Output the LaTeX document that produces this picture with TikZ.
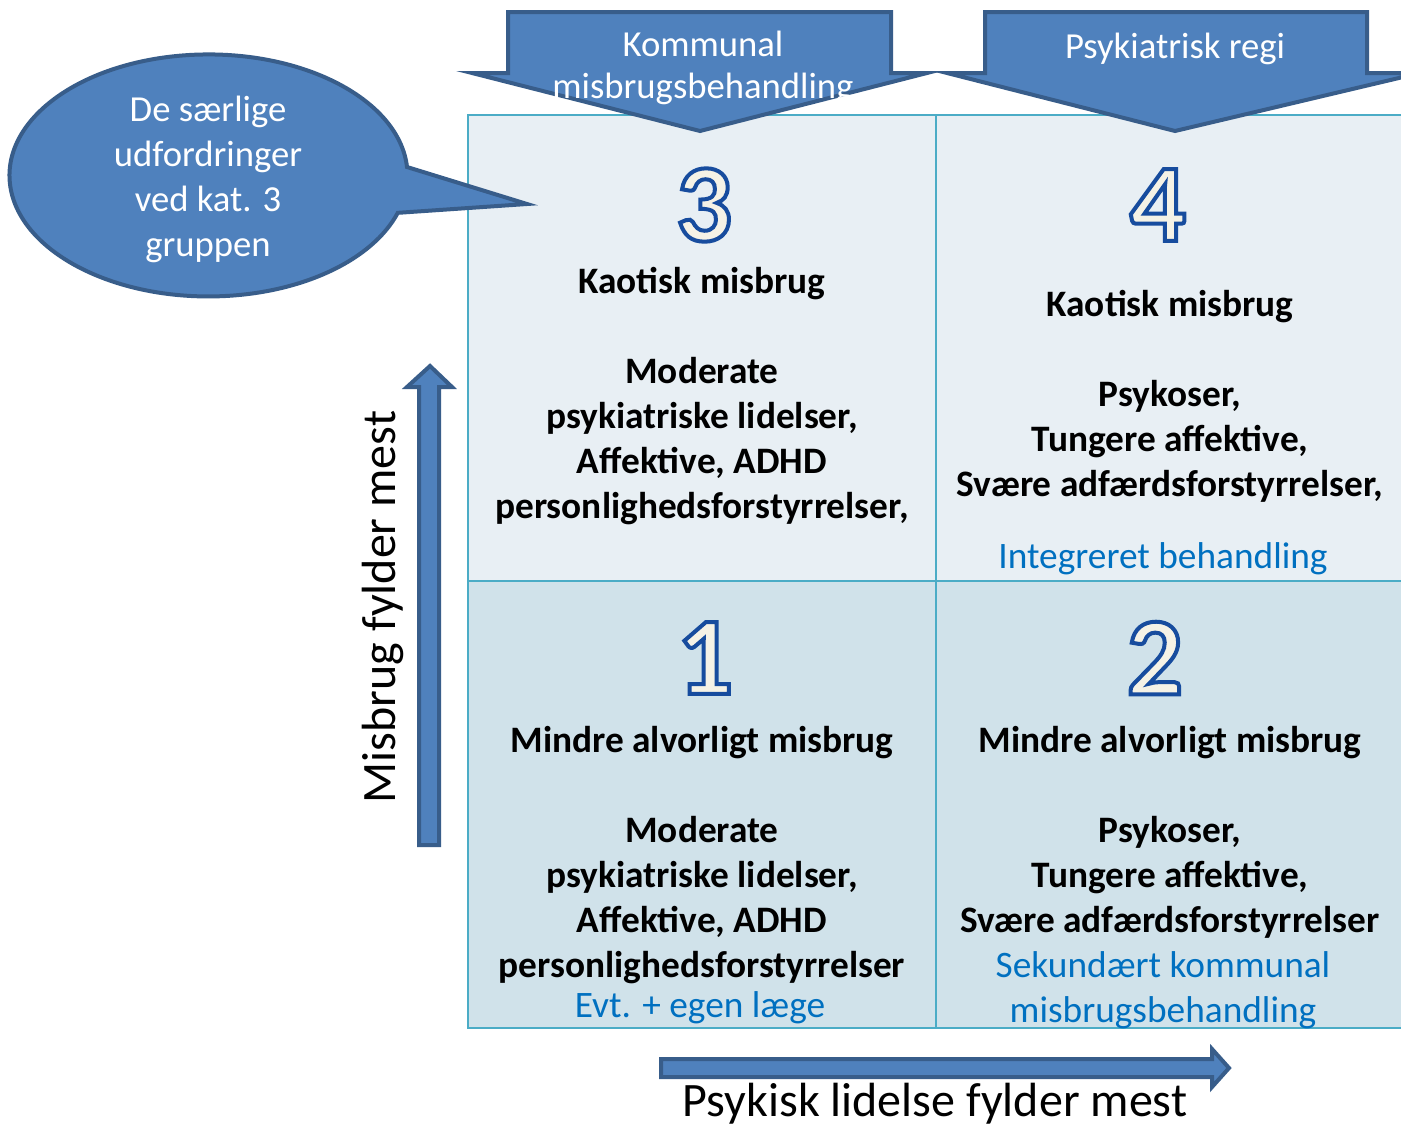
\documentclass[tikz,border=0pt]{standalone}
\usepackage{fontspec}
\setmainfont{Carlito}
\definecolor{arrowfill}{RGB}{79,129,189}
\definecolor{arrowline}{RGB}{56,93,138}
\definecolor{gridcol}{RGB}{75,172,198}
\definecolor{topcell}{RGB}{232,239,244}
\definecolor{botcell}{RGB}{208,226,234}
\definecolor{bluetext}{RGB}{0,112,192}
\definecolor{digitfill}{RGB}{245,242,230}
\tikzset{
  bigarrow/.style={fill=arrowfill, draw=arrowline, line width=3pt, line join=miter},
  gridline/.style={draw=gridcol, line width=1.8pt},
  celltext/.style={align=center, font=\fontsize{28}{33.75}\selectfont\bfseries, text=black, inner sep=0pt},
  bluelabel/.style={align=center, font=\fontsize{28}{33.75}\selectfont, text=bluetext, inner sep=0pt},
  headtext/.style={align=center, font=\fontsize{27.5}{32.5}\selectfont, text=white, inner sep=0pt},
  axistext/.style={font=\fontsize{36}{40}\selectfont, text=black, inner sep=0pt},
  digit/.style={font=\fontsize{83}{83}\selectfont\bfseries, inner sep=0pt}
}
\newcommand{\bignum}[1]{%
  {\color{digitfill}\special{pdf:literal direct 2 Tr 3 w 0.09 0.30 0.62 RG}#1\special{pdf:literal direct 0 Tr}}}
\begin{document}
\begin{tikzpicture}[x=0.75pt,y=-0.75pt]
\clip (0,0) rectangle (1401,1128);
\fill[white] (0,0) rectangle (1401,1128);
% grid cells
\fill[topcell] (468,115) rectangle (1420,581);
\fill[botcell] (468,581) rectangle (1420,1028);
\draw[gridline] (468,115) rectangle (1420,1028);
\draw[gridline] (468,581) -- (1420,581);
\draw[gridline] (936,115) -- (936,1028);
% top arrows
\draw[bigarrow] (508,12) -- (891,12) -- (891,73) -- (927,73) -- (700,131) -- (472,73) -- (508,73) -- cycle;
\draw[bigarrow] (985,12) -- (1367,12) -- (1367,73) -- (1420,73) -- (1175,131) -- (947,73) -- (985,73) -- cycle;
\node[headtext] (h1a) at (703,44) {Kommunal};
\node[headtext] (h1b) at (703,89) {misbrugsbehandling};
\node[headtext] (h2) at (1175,49) {Psykiatrisk regi};
% callout
\draw[bigarrow] (527,204) -- (407,167) arc[start angle=-4, end angle=-342, x radius=199, y radius=121] -- cycle;
\node[headtext, font=\fontsize{27.5}{33.75}\selectfont] (call) at (208,179) {De særlige\\udfordringer\\ved kat. 3\\gruppen};
% digits
\node[digit] (d3) at (704,205) {\bignum{3}};
\node[digit] (d4) at (1158,205) {\bignum{4}};
\node[digit] (d1) at (705,658) {\bignum{1}};
\node[digit] (d2) at (1155,658) {\bignum{2}};
% cell texts
\node[celltext] (t3) at (702,396) {Kaotisk misbrug\\[33.75pt]Moderate\\psykiatriske lidelser,\\Affektive, ADHD\\personlighedsforstyrrelser,};
\node[celltext] (t4) at (1170,396) {Kaotisk misbrug\\[33.75pt]Psykoser,\\Tungere affektive,\\Svære adfærdsforstyrrelser,};
\node[bluelabel] (b4) at (1163,559) {Integreret behandling};
\node[celltext] (t1) at (702,855) {Mindre alvorligt misbrug\\[33.75pt]Moderate\\psykiatriske lidelser,\\Affektive, ADHD\\personlighedsforstyrrelser};
\node[bluelabel] (b1) at (700,1008) {Evt. + egen læge};
\node[celltext] (t2) at (1170,832) {Mindre alvorligt misbrug\\[33.75pt]Psykoser,\\Tungere affektive,\\Svære adfærdsforstyrrelser};
\node[bluelabel] (b2) at (1163,990) {Sekundært kommunal\\misbrugsbehandling};
% axis arrows
\draw[bigarrow] (419,845) -- (419,387) -- (407,387) -- (430,366) -- (452,387) -- (439,387) -- (439,845) -- cycle;
\node[axistext, rotate=90] (ay) at (383,607) {Misbrug fylder mest};
\draw[bigarrow] (661,1059) -- (1212,1059) -- (1212,1049) -- (1229,1068) -- (1212,1087) -- (1212,1077) -- (661,1077) -- cycle;
\node[axistext] (ax) at (935,1104) {Psykisk lidelse fylder mest};
\end{tikzpicture}
\end{document}
